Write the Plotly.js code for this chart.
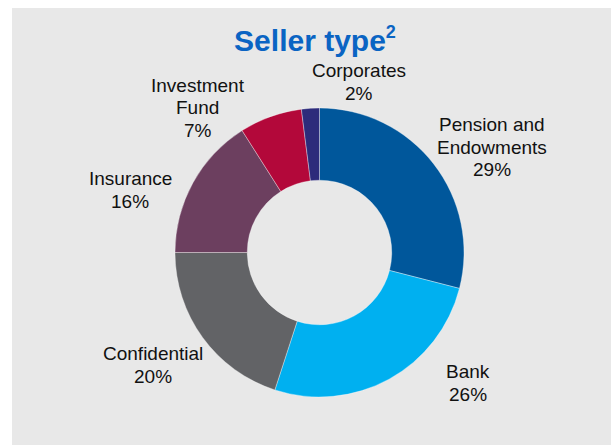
<!DOCTYPE html>
<html>
<head>
<meta charset="utf-8">
<script src="https://cdn.plot.ly/plotly-3.0.1.min.js"></script>
<style>
  html, body { margin: 0; padding: 0; background: #ffffff; }
  #chart { width: 611px; height: 445px; }
</style>
</head>
<body>
<div id="chart"></div>
<script>
// Data
const categories = ["Pension and<br>Endowments", "Bank", "Confidential", "Insurance", "Investment<br>Fund", "Corporates"];
const shares = [29, 26, 20, 16, 7, 2];
const sliceColors = ["#00579b", "#00b0f0", "#626366", "#6c3f5f", "#b3083a", "#2d2b7b"];
const titleText = "Seller type<sup><span style='font-size:18px'>2</span></sup>";

// Label placement (pixels in the 611x445 frame): centre x, first baseline y
const W = 611, H = 445;
const labelPos = [
  [492, 130.7], [468, 378.3], [153, 360], [130, 185], [198, 91.7], [359, 76.7]
];
const lineGap = 22.8;
const fontSize = 19;

const annotations = [];
categories.forEach((c, i) => {
  const lines = c.split("<br>").concat([shares[i] + "%"]);
  lines.forEach((ln, k) => {
    const baseline = labelPos[i][1] + k * lineGap;
    annotations.push({
      text: ln,
      xref: "paper", yref: "paper",
      x: labelPos[i][0] / W, y: 1 - (baseline - 6.5) / H,
      xanchor: "center", yanchor: "middle",
      showarrow: false, align: "center",
      font: { family: "Liberation Sans, Arial, sans-serif", size: fontSize, color: "#111111" }
    });
  });
});

const cx = 319.5, cy = 252.5, r = 144.5;

const trace = {
  type: "pie",
  labels: categories,
  values: shares,
  sort: false,
  direction: "clockwise",
  rotation: 0,
  hole: 0.5,
  textinfo: "none",
  hoverinfo: "label+percent",
  marker: { colors: sliceColors, line: { color: "rgba(255,255,255,0.35)", width: 1 } },
  domain: { x: [(cx - r) / W, (cx + r) / W], y: [1 - (cy + r) / H, 1 - (cy - r) / H] },
  showlegend: false
};

const layout = {
  width: W, height: H,
  margin: { l: 0, r: 0, t: 0, b: 0 },
  paper_bgcolor: "#ffffff",
  plot_bgcolor: "rgba(0,0,0,0)",
  title: {
    text: titleText,
    font: { family: "Liberation Sans, Arial, sans-serif", size: 30, color: "#0a64c3", weight: "bold" },
    x: 315 / W, xanchor: "center",
    y: 1 - 40 / H, yanchor: "middle",
    xref: "paper", yref: "paper"
  },
  shapes: [{
    type: "rect", xref: "paper", yref: "paper", layer: "below",
    x0: 12 / W, x1: 1, y0: 0, y1: 1 - 8 / H,
    fillcolor: "#e8e8e8", line: { width: 0 }
  }],
  annotations: annotations
};

Plotly.newPlot("chart", [trace], layout, { displayModeBar: false, staticPlot: true });
</script>
</body>
</html>
